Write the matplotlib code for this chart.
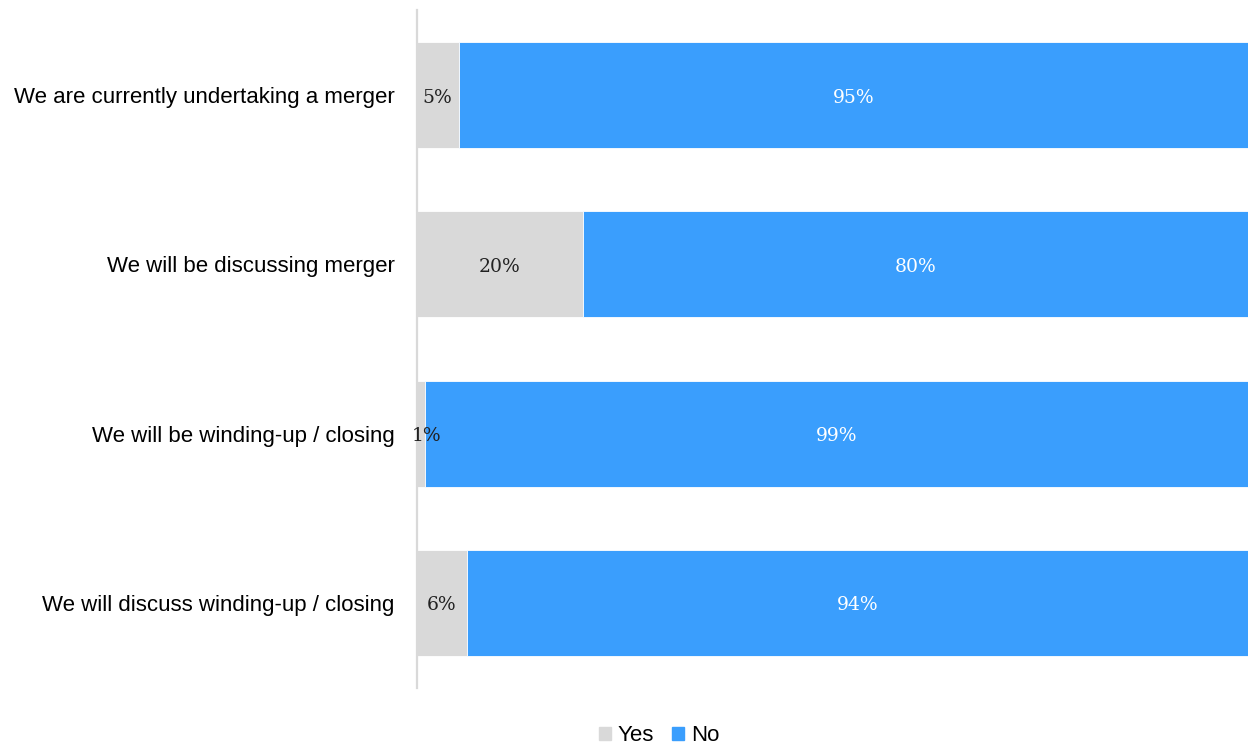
import numpy as np
import matplotlib.pyplot as plt
from matplotlib.patches import Patch

# survey answers, one row per statement
categories = [
    "We are currently undertaking a merger",
    "We will be discussing merger",
    "We will be winding-up / closing",
    "We will discuss winding-up / closing",
]
yes_pct = [5, 20, 1, 6]
no_pct = [95, 80, 99, 94]

grey = "#d9d9d9"
blue = "#3a9efd"

fig = plt.figure(figsize=(12.48, 7.46), dpi=100)
ax = fig.add_axes([0.3341, 0.0777, 0.6659, 0.9088])

y = np.arange(len(categories))
yes = np.array(yes_pct)
no = np.array(no_pct)

ax.barh(y, yes, height=0.627, color=grey, edgecolor="white", linewidth=0.6)
ax.barh(y, no, left=yes, height=0.627, color=blue, edgecolor="white", linewidth=0.6)

serif = ["DejaVu Serif"]
for i in range(len(categories)):
    ax.text(max(yes[i] / 2, 1.1), y[i] + 0.015, f"{yes_pct[i]}%", ha="center", va="center",
            fontsize=13.5, family=serif, color="#222222")
    ax.text(yes[i] + no[i] / 2, y[i] + 0.015, f"{no_pct[i]}%", ha="center", va="center",
            fontsize=13.5, family=serif, color="white")

ax.set_xlim(0, 100)
ax.set_ylim(len(categories) - 0.497, -0.503)
ax.set_yticks(y)
ax.set_yticklabels(categories, fontsize=16, family="Liberation Sans")
ax.tick_params(axis="y", length=0, pad=16)
ax.set_xticks([])
for s in ["top", "right", "bottom"]:
    ax.spines[s].set_visible(False)
ax.spines["left"].set_color(grey)
ax.spines["left"].set_linewidth(1.6)

handles = [Patch(color=grey, label="Yes"), Patch(color=blue, label="No")]
fig.legend(handles=handles, loc="center", bbox_to_anchor=(0.528, 0.014), ncol=2,
           frameon=False, handlelength=0.55, handleheight=0.55, handletextpad=0.3,
           columnspacing=0.8, prop={"family": "Liberation Sans", "size": 16})

fig.savefig("out.png", dpi=100)
